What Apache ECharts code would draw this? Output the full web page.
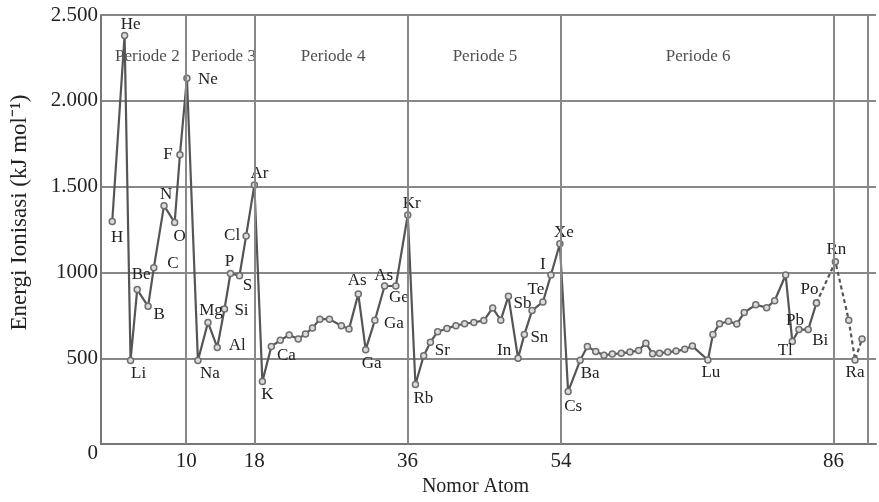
<!DOCTYPE html>
<html><head><meta charset="utf-8">
<script src="https://cdn.jsdelivr.net/npm/echarts@6/dist/echarts.min.js"></script>
<style>html,body{margin:0;padding:0;background:#fff}#c{width:879px;height:502px}</style>
</head><body><div id="c"></div>
<script>
// x position of each point (atomic number axis)
const nomorAtom = [1.32,2.77,3.47,4.25,5.53,6.20,7.40,8.65,9.27,10.09,
  11.38,12.56,13.65,14.50,15.20,16.26,17.04,18.01,
  18.95,20.00,21.05,22.10,23.16,24.01,24.83,25.70,26.82,28.22,29.12,30.21,31.08,32.16,33.30,34.62,36.02,
  36.92,37.89,38.68,39.53,40.62,41.67,42.69,43.78,44.95,45.99,46.94,47.84,48.97,49.71,50.61,51.89,52.83,53.88,
  54.85,56.26,57.11,58.09,59.06,60.04,61.09,62.11,63.12,63.98,64.76,65.58,66.55,67.52,68.54,69.44,
  71.26,71.85,72.63,73.68,74.65,75.52,76.88,78.16,79.10,80.39,
  81.17,81.95,83.04,84.01,
  86.23,87.80,88.54,89.36];
// ionisation energy (kJ/mol)
const energi = [1297,2381,487,900,803,1027,1389,1291,1686,2132,
  487,709,563,787,994,981,1213,1510,
  364,569,605,636,613,642,676,728,728,690,670,875,550,722,921,921,1335,
  347,515,594,655,674,690,701,709,720,793,722,862,500,638,778,828,985,1167,
  306,488,569,540,517,525,529,536,546,588,527,530,536,542,552,571,
  490,638,701,716,699,766,812,795,835,985,
  598,667,667,822,
  1063,722,490,613];
const simbol = ['H','He','Li','Be','B','C','N','O','F','Ne',
  'Na','Mg','Al','Si','P','S','Cl','Ar',
  'K','Ca','','','','','','','','','','As','Ga','Ga','As','Ge','Kr',
  'Rb','','Sr','','','','','','','','','Sb','In','Sn','','Te','I','Xe',
  'Cs','Ba','','','','','','','','','','','','','','',
  'Lu','','','','','','','','','',
  'Tl','Pb','Bi','Po',
  'Rn','','Ra',''];
const dashedFrom = 82; // Po onwards drawn dashed

const periodeNama = ['Periode 2','Periode 3','Periode 4','Periode 5','Periode 6'];
const periodeX = [5.44,14.39,27.25,45.09,70.12];
const periodeY = 2260;

const batasPeriode = [10,18,36,54,86,90];
const xTickValues = [10,18,36,54,86];
const yTickValues = [0,500,1000,1500,2000,2500];
const yTickTexts = ['0','500','1000','1.500','2.000','2.500'];

// label offsets (layout), in order of labelled points
const labelOffsets = [[5,16],[6,-11],[8,13],[4,-15],[11,8],[19,-4],[2,-11],[5,14],[-12,0],[21,1],
  [12,13],[3,-12],[20,-2],[17,2],[-1,-12],[8,10],[-14,0],[5,-11],
  [5,13],[15,9],[-1,-13],[6,14],[19,3],[-1,-10],[3,12],[4,-11],
  [8,14],[12,8],[14,7],[-14,-8],[15,3],[-7,-12],[-8,-11],[4,-11],
  [5,15],[10,13],[3,13],[-7,9],[-4,-9],[12,11],[-7,-13],[1,-12],[0,13]];

const FONT = 'Liberation Serif';
const offsetByIndex = {};
{ let k = 0; simbol.forEach((s,i)=>{ if (s) offsetByIndex[i] = labelOffsets[k++]; }); }

function item(i, showLabel){
  const s = simbol[i];
  const d = {value:[nomorAtom[i], energi[i]]};
  if (s && showLabel){
    d.label = {show:true, formatter:s, position:'inside', offset:offsetByIndex[i]};
  }
  return d;
}
const solidData = [], dashData = [];
for (let i=0;i<nomorAtom.length;i++){
  if (i<=dashedFrom) solidData.push(item(i, true));
  if (i>=dashedFrom) dashData.push(item(i, i!==dashedFrom));
}

const labelStyle = {fontFamily:FONT, fontSize:17, color:'#222'};
const markerStyle = {color:'#dcdcdc', borderColor:'#6e6e6e', borderWidth:1.5};

const chart = echarts.init(document.getElementById('c'));
chart.setOption({
  animation:false,
  grid:{left:101, right:0, top:15, bottom:52, containLabel:false},
  xAxis:{type:'value', min:0, max:91, interval:1,
    name:'Nomor Atom', nameLocation:'middle', nameGap:31,
    nameTextStyle:{fontFamily:FONT, fontSize:20, color:'#222', padding:[0,26,0,0]},
    axisLine:{show:true, lineStyle:{color:'#777', width:2}},
    axisTick:{show:false}, splitLine:{show:false},
    axisLabel:{fontFamily:FONT, fontSize:21, color:'#222', margin:7,
      formatter:v=> xTickValues.indexOf(v)>=0 ? String(v) : ''}
  },
  yAxis:{type:'value', min:0, max:2500, interval:500,
    name:'Energi Ionisasi (kJ mol⁻¹)', nameLocation:'middle', nameGap:70,
    nameTextStyle:{fontFamily:FONT, fontSize:23, color:'#222', padding:[0,0,0,34]},
    axisLine:{show:true, lineStyle:{color:'#777', width:2}},
    axisTick:{show:false},
    splitLine:{show:true, lineStyle:{color:'#888', width:2}},
    axisLabel:{fontFamily:FONT, fontSize:21, color:'#222', margin:3, lineHeight:18,
      formatter:v=>{ const k=yTickValues.indexOf(v); if(v===0) return '\n0'; return k>=0?yTickTexts[k]:''; }}
  },
  series:[
    {type:'line', data:[], z:1, silent:true,
      markLine:{silent:true, symbol:['none','none'], label:{show:false},
        lineStyle:{type:'solid', color:'#888', width:2},
        data: batasPeriode.map(v=>({xAxis:v}))}},
    {type:'scatter', z:2, silent:true, symbolSize:0,
      data: periodeX.map((x,i)=>({value:[x,periodeY], label:{show:true, formatter:periodeNama[i]}})),
      label:{position:'inside', fontFamily:FONT, fontSize:17, color:'#222'}},
    {type:'line', z:3, data:solidData, symbol:'circle', symbolSize:6,
      lineStyle:{color:'#555', width:2.2}, itemStyle:markerStyle, label:Object.assign({show:false}, labelStyle)},
    {type:'line', z:3, data:dashData, symbol:'circle', symbolSize:6,
      lineStyle:{color:'#555', width:2.2, type:[4,3]}, itemStyle:markerStyle, label:Object.assign({show:false}, labelStyle)}
  ]
});
</script></body></html>
